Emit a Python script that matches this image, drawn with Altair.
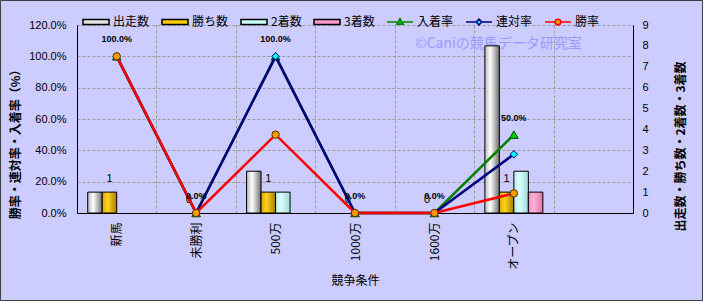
import altair as alt
import pandas as pd

# ---------------- data ----------------
categories = ["新馬", "未勝利", "500万", "1000万", "1600万", "オープン"]
x_domain = categories + [" "]

bar_series = ["出走数", "勝ち数", "2着数", "3着数"]
starts = [1, 0, 2, 0, 0, 8]
wins = [1, 0, 1, 0, 0, 1]
seconds = [0, 0, 1, 0, 0, 2]
thirds = [0, 0, 0, 0, 0, 1]

rate_series = ["入着率", "連対率", "勝率"]
place_rate = [1.0, 0.0, 1.0, 0.0, 0.0, 0.5]
quinella_rate = [1.0, 0.0, 1.0, 0.0, 0.0, 0.375]
win_rate = [1.0, 0.0, 0.5, 0.0, 0.0, 0.125]

rate_ticks = [0, 0.2, 0.4, 0.6, 0.8, 1.0, 1.2]
count_ticks = [0, 1, 2, 3, 4, 5, 6, 7, 8, 9]

watermark = ["©Caniの競馬データ研究室"]
left_title = "勝率・連対率・入着率（%）"
right_title = "出走数・勝ち数・2着数・3着数"
x_title = "競争条件"

legend_series = bar_series + rate_series

# ---------------- tables ----------------
count_rows = []
for s, vals in zip(bar_series, [starts, wins, seconds, thirds]):
    for c, v in zip(categories, vals):
        count_rows.append({"category": c, "series": s, "value": v})
counts = pd.DataFrame(count_rows)

rate_rows = []
for s, vals in zip(rate_series, [place_rate, quinella_rate, win_rate]):
    for c, v in zip(categories, vals):
        rate_rows.append({"category": c, "series": s, "value": v})
rates = pd.DataFrame(rate_rows)

# ---------------- styles ----------------
NUM_FONT = "Liberation Sans, Noto Sans CJK JP"
JP_FONT = "Noto Sans CJK JP"

def grad(c0, c1, c2):
    return alt.LinearGradient(
        gradient="linear", x1=0, x2=1, y1=0, y2=0,
        stops=[alt.GradientStop(color=c0, offset=0),
               alt.GradientStop(color=c1, offset=0.38),
               alt.GradientStop(color=c2, offset=1)])

bar_fills = {
    "出走数": grad("#b8b8b8", "#ffffff", "#6e6e6e"),
    "勝ち数": grad("#d9a800", "#ffd21f", "#a67c00"),
    "2着数": grad("#b4ecec", "#dcffff", "#9cd8d8"),
    "3着数": grad("#ee8fc0", "#ffb0d8", "#d878a8"),
}

legend_fill = ["#e4e4e4", "#ffcc00", "#ccffff", "#ff99cc", "#00cc00", "#00ffff", "#ff9900"]
legend_stroke = ["#000000", "#000000", "#000000", "#000000", "#008000", "#000080", "#ff0000"]
legend_shapes = [
    "M-1,-0.2H1V0.2H-1Z",
    "M-1,-0.2H1V0.2H-1Z",
    "M-1,-0.2H1V0.2H-1Z",
    "M-1,-0.2H1V0.2H-1Z",
    "M-1,0H-0.22M0.22,0H1M0,-0.26L0.25,0.17L-0.25,0.17Z",
    "M-1,0H-0.22M0.22,0H1M0,-0.22L0.22,0L0,0.22L-0.22,0Z",
    "M-1,0H-0.22M0.22,0H1M0.22,0A0.22,0.22,0,1,1,-0.22,0A0.22,0.22,0,1,1,0.22,0Z",
]

# ---------------- encodings ----------------
x_axis = alt.Axis(
    title=x_title, labelAngle=270, labelFont=JP_FONT, labelFontSize=12,
    labelColor="#000000", labelPadding=9, ticks=False, domainColor="#000000",
    grid=True, gridDash=[3, 2], gridColor="#9a9a9a", tickBand="extent",
    titleFont=JP_FONT, titleFontSize=12, titleFontWeight="normal",
    titleColor="#000000", titleY=67, titleBaseline="middle")
x_enc = alt.X("category:N", scale=alt.Scale(domain=x_domain, paddingInner=0, paddingOuter=0),
              axis=x_axis)
off_enc = alt.XOffset("series:N", scale=alt.Scale(domain=bar_series, paddingInner=0, paddingOuter=0.74))

count_axis = alt.Axis(
    orient="right", values=count_ticks, format="d", title=right_title, grid=False,
    ticks=False, domainColor="#000000", labelFont=NUM_FONT, labelFontSize=11,
    labelColor="#000000", labelPadding=9, titleFont=JP_FONT, titleFontSize=12,
    titleFontWeight="bold", titleColor="#000000", titleX=47, titleY=121,
    titleAngle=270, titleBaseline="middle", titleAlign="center")
y_count = alt.Y("value:Q", scale=alt.Scale(domain=[0, 9], nice=False), axis=count_axis)

rate_axis = alt.Axis(
    orient="left", values=rate_ticks, format=".1%", title=left_title, grid=True,
    gridDash=[3, 2], gridColor="#9a9a9a", ticks=False, domainColor="#000000",
    labelFont=NUM_FONT, labelFontSize=11, labelColor="#000000", labelPadding=11,
    titleFont=JP_FONT, titleFontSize=12, titleFontWeight="bold", titleColor="#000000",
    titleX=-62, titleY=116, titleAngle=270, titleBaseline="middle", titleAlign="center")
y_rate = alt.Y("value:Q", scale=alt.Scale(domain=[0, 1.2], nice=False), axis=rate_axis)

# ---------------- bar group ----------------
wm = alt.Chart(pd.DataFrame({"t": watermark})).mark_text(
    align="left", baseline="middle", font=JP_FONT, fontSize=14, color="#9999ff"
).encode(x=alt.value(338), y=alt.value(19), text="t:N")

bar_layers = []
for s in bar_series:
    bar_layers.append(
        alt.Chart(counts)
        .transform_filter((alt.datum.series == s) & (alt.datum.value > 0))
        .mark_bar(fill=bar_fills[s], stroke="#000000", strokeWidth=1)
        .encode(x=x_enc, xOffset=off_enc, y=y_count)
    )

win_labels = (
    alt.Chart(counts)
    .transform_filter(alt.datum.series == "勝ち数")
    .mark_text(dy=-13, font=NUM_FONT, fontSize=11, color="#000000")
    .encode(x=x_enc, xOffset=off_enc, y=y_count, text=alt.Text("value:Q", format="d"))
)

legend_def = alt.Legend(
    orient="none", legendX=5, legendY=-17, direction="horizontal", title=None,
    symbolSize=676, symbolStrokeWidth=1.5, symbolOpacity=1, labelFont=JP_FONT,
    labelFontSize=12, labelColor="#000000", labelOffset=3, columnPadding=9, padding=0)

legend_layer = (
    alt.Chart(pd.DataFrame({"series": legend_series}))
    .transform_filter("false")
    .mark_point(filled=True, opacity=1, size=676, strokeWidth=1.5)
    .encode(
        fill=alt.Fill("series:N", scale=alt.Scale(domain=legend_series, range=legend_fill), legend=legend_def),
        stroke=alt.Stroke("series:N", scale=alt.Scale(domain=legend_series, range=legend_stroke), legend=legend_def),
        shape=alt.Shape("series:N", scale=alt.Scale(domain=legend_series, range=legend_shapes), legend=legend_def),
    )
)

bars_group = alt.layer(wm, *bar_layers, win_labels, legend_layer)

# ---------------- rate group ----------------
line_style = {
    "入着率": dict(line="#008000", shape="triangle-up", fill="#00cc00", stroke="#004d00", size=75),
    "連対率": dict(line="#000080", shape="diamond", fill="#00ffff", stroke="#000080", size=55),
    "勝率": dict(line="#ff0000", shape="circle", fill="#ff9900", stroke="#4d3000", size=55),
}
rate_layers = []
for s in rate_series:
    st = line_style[s]
    base = alt.Chart(rates).transform_filter(alt.datum.series == s)
    rate_layers.append(base.mark_line(color=st["line"], strokeWidth=2.5).encode(x=x_enc, y=y_rate))
    rate_layers.append(
        base.mark_point(shape=st["shape"], filled=True, fill=st["fill"], stroke=st["stroke"],
                        strokeWidth=1, size=st["size"], opacity=1)
        .encode(x=x_enc, y=y_rate)
    )

rate_labels = (
    alt.Chart(rates)
    .transform_filter(alt.datum.series == "入着率")
    .mark_text(dy=-17, font=NUM_FONT, fontSize=9, fontWeight="bold", color="#000000")
    .encode(x=x_enc, y=y_rate, text=alt.Text("value:Q", format=".1%"))
)

rates_group = alt.layer(*rate_layers, rate_labels)

border = alt.Chart(pd.DataFrame({"k": [0]})).mark_rect(
    fillOpacity=0, stroke="#404040", strokeWidth=1
).encode(x=alt.value(-76.5), x2=alt.value(625.5), y=alt.value(-24.5), y2=alt.value(275.5))

chart = (
    alt.layer(bars_group, rates_group, border)
    .resolve_scale(y="independent")
    .properties(width=556, height=188, autosize=alt.AutoSizeParams(type="none"),
                padding={"left": 77, "top": 25, "right": 70, "bottom": 88})
    .configure(background="#ccccff")
    .configure_view(fill="#ffffcc", strokeWidth=0)
)

chart.save("out.html", embed_options={"renderer": "svg", "actions": False})
